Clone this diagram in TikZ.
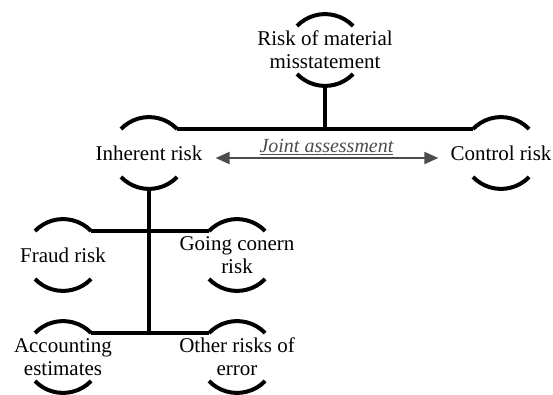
\documentclass[tikz,border=0pt]{standalone}
\usepackage{fontspec}
\setmainfont{Liberation Serif}
\usetikzlibrary{arrows.meta}

\begin{document}
\begin{tikzpicture}[x=1pt,y=1pt]
      \tikzstyle{every node}+=[inner sep=0pt, align=center, font=\fontsize{21}{23}\selectfont]
      \tikzstyle{riskline}=[black, line width=4pt]
      \tikzstyle{jointline}=[draw=black!70, line width=2pt, {Triangle[length=14pt,width=12pt]}-{Triangle[length=14pt,width=12pt]}, shorten <=13pt, shorten >=12pt]
      \useasboundingbox (0,0) rectangle (553,394);
      \node (rmm) at (325,344) {Risk of material\\misstatement};
      \node (inh) at (149,241) {Inherent risk};
      \node (ctl) at (501,241) {Control risk};
      \node (frd) at (63,139) {Fraud risk};
      \node (gcr) at (237,139) {Going conern\\risk};
      \node (acc) at (63,37) {Accounting\\estimates};
      \node (oth) at (237,37) {Other risks of\\error};
      \foreach \n in {rmm,inh,ctl,frd,gcr,acc,oth} {
        \draw [riskline] ([shift={(-28,24)}]\n.center) coordinate (\n-tl) arc [start angle=136, end angle=44, radius=39] coordinate (\n-tr);
        \draw [riskline] ([shift={(-28,-24)}]\n.center) coordinate (\n-bl) arc [start angle=224, end angle=316, radius=39] coordinate (\n-br);
      }
      \draw [riskline] (inh-tr) -- (ctl-tl);
      \draw [riskline] ([yshift=-36pt]rmm.center) -- (rmm |- inh-tr);
      \draw [riskline] ([yshift=-36pt]inh.center) -- (inh |- acc-tr);
      \draw [riskline] (frd-tr) -- (gcr-tl);
      \draw [riskline] (acc-tr) -- (oth-tl);
      \draw [jointline] ([yshift=-5pt]inh.east) -- node [midway, yshift=11pt, text=black!70, font=\fontsize{20}{22}\selectfont\itshape] {\underline{Joint assessment}} ([yshift=-5pt]ctl.west);
\end{tikzpicture}
\end{document}
